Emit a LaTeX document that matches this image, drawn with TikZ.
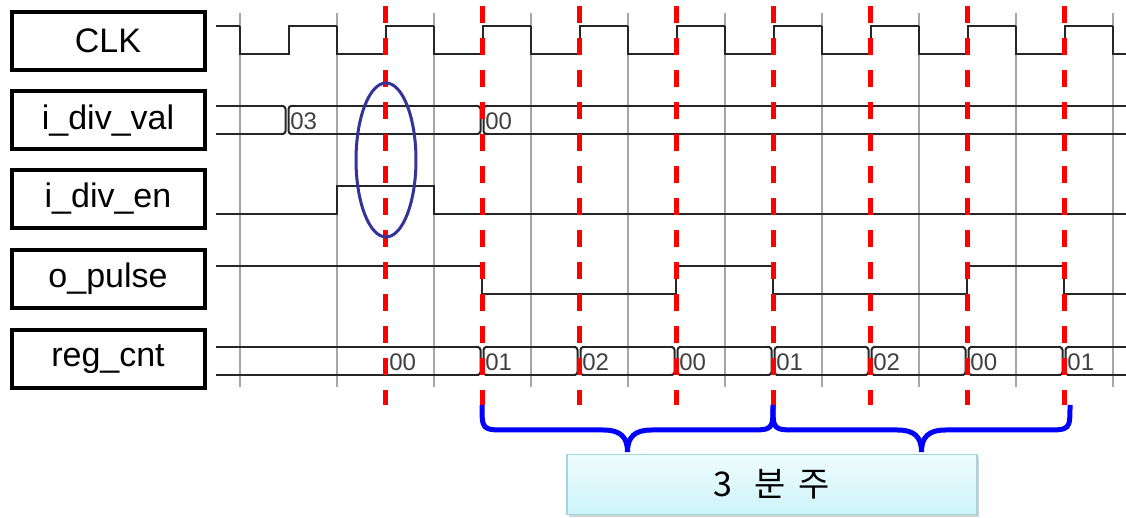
\documentclass[tikz,border=0pt]{standalone}
\usepackage{fontspec}
\setmainfont{Liberation Sans}
\newfontfamily\kofont{Noto Sans CJK KR}
\usetikzlibrary{shadows}

\definecolor{ringblue}{HTML}{333399}
\definecolor{boxtop}{HTML}{EEFCFE}
\definecolor{boxbot}{HTML}{CDF4FA}
\definecolor{boxline}{HTML}{A3D3DC}

% bus transition mark at x, between top and bottom line
\newcommand\bustr[3]{%
  \fill[white] ({#1-3},{#2-1}) rectangle ({#1+3},{#3+1});
  \draw[wave, rounded corners=1.5pt] ({#1-6},#2) -- ({#1-1.5},#2) -- ({#1-1.5},#3) -- ({#1-6},#3);
  \draw[wave, rounded corners=1.5pt] ({#1+6},#2) -- ({#1+1.5},#2) -- ({#1+1.5},#3) -- ({#1+6},#3);
}

\begin{document}
\begin{tikzpicture}[
    x=0.5pt, y=-0.5pt,
    sigbox/.style={rectangle, draw, line width=2pt, minimum width=96.5pt, minimum height=29pt, inner sep=0pt, font=\fontsize{17}{20}\selectfont},
    wave/.style={draw, line width=1pt, black!85},
    tickline/.style={draw, line width=1pt, black!35},
    trig/.style={draw, red, line width=2.5pt, dash pattern=on 8.5pt off 7.5pt},
    busval/.style={anchor=west, inner sep=0pt, text=black!75, font=\fontsize{12}{13}\selectfont},
    span/.style={draw, blue, line width=2.5pt},
    divbox/.style={rectangle, draw=boxline, line width=0.8pt, top color=boxtop, bottom color=boxbot, minimum width=205pt, minimum height=30pt, font=\kofont\fontsize{17}{20}\selectfont, drop shadow={opacity=0.35, shadow xshift=1pt, shadow yshift=-1.2pt}}
]
  \useasboundingbox (0,0) rectangle (1126,518);
  \clip (0,0) rectangle (1126,518);
  % signal names
  \node[sigbox] (clk) at (108,41) {CLK};
  \node[sigbox] (divval) at (108,120.5) {i\_div\_val};
  \node[sigbox] (diven) at (108,199) {i\_div\_en};
  \node[sigbox] (pulse) at (108,279) {o\_pulse};
  \node[sigbox] (cnt) at (108,359) {reg\_cnt};
  % falling clock edges
  \foreach \k in {0,...,9} {
    \draw[tickline] ({240+97*\k},13) -- ({240+97*\k},387);
  }
  % CLK
  \draw[wave] (216,26) -- (240,26);
  \foreach \k in {0,...,9} {
    \draw[wave] ({240+97*\k},26) -- ({240+97*\k},54) -- ({288.5+97*\k},54) -- ({288.5+97*\k},26) -- ({337+97*\k},26);
  }
  % i_div_val
  \draw[wave] (216,106) -- (1126,106);
  \draw[wave] (216,134) -- (1126,134);
  \bustr{287}{106}{134}
  \bustr{482}{106}{134}
  \node[busval] (v03) at (290,121) {03};
  \node[busval] (v00) at (485,121) {00};
  % i_div_en
  \draw[wave] (216,214) -- (337,214) -- (337,186) -- (434,186) -- (434,214) -- (1126,214);
  % o_pulse
  \draw[wave] (216,266) -- (482,266) -- (482,294) -- (676,294) -- (676,266) -- (773,266)
    -- (773,294) -- (967,294) -- (967,266) -- (1064,266) -- (1064,294) -- (1126,294);
  % reg_cnt
  \draw[wave] (216,347) -- (1126,347);
  \draw[wave] (216,375) -- (1126,375);
  \node[busval] (c0) at (389,362) {00};
  \foreach \k/\v in {1/01, 2/02, 3/00, 4/01, 5/02, 6/00, 7/01} {
    \bustr{385+97*\k}{347}{375}
    \node[busval] (c\k) at ({388+97*\k},362) {\v};
  }
  % rising edges
  \foreach \k in {0,...,7} {
    \draw[trig] ({385+97*\k},6) -- ({385+97*\k},405);
  }
  \draw[ringblue, line width=1.5pt] (386,160) ellipse [x radius=15pt, y radius=38.5pt];
  % one output period = 3 clocks
  \foreach \a/\b in {482/773, 773/1070} {
    \draw[span] (\a,405) .. controls (\a,430) .. ({\a+25},430) -- ({(\a+\b)/2-24},430)
      .. controls ({(\a+\b)/2-7},430) and ({(\a+\b)/2},437) .. ({(\a+\b)/2},452)
      .. controls ({(\a+\b)/2},437) and ({(\a+\b)/2+7},430) .. ({(\a+\b)/2+24},430)
      -- ({\b-25},430) .. controls (\b,430) .. (\b,405);
  }
  \node[divbox] (ratio) at (772,484.5) {3\hspace{11pt}분\hspace{6.5pt}주};
\end{tikzpicture}
\end{document}
